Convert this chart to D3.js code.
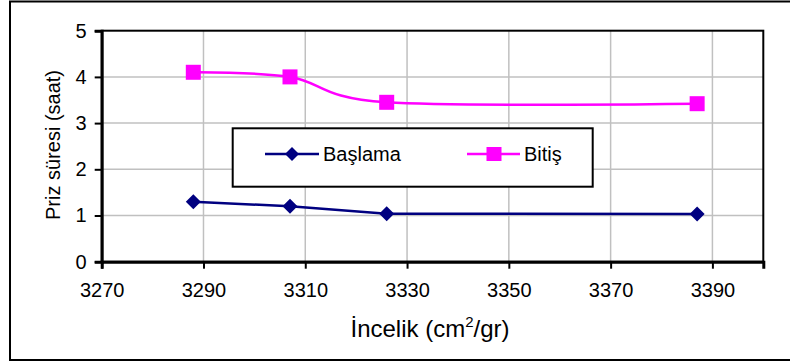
<!DOCTYPE html>
<html>
<head>
<meta charset="utf-8">
<script src="https://cdn.jsdelivr.net/npm/d3@7"></script>
<style>
  html, body { margin: 0; padding: 0; background: #fff; }
  svg { display: block; font-family: "Liberation Sans", Arial, sans-serif; }
</style>
</head>
<body>
<svg id="chart" width="790" height="362"></svg>
<script>
// ---- data ----
const fineness = [3288, 3307, 3326, 3387];
const baslama = [1.30, 1.20, 1.04, 1.03];
const bitis = [4.10, 4.00, 3.45, 3.42];
const xTicks = [3270, 3290, 3310, 3330, 3350, 3370, 3390];
const yTicks = [0, 1, 2, 3, 4, 5];
const seriesNames = ["Başlama", "Bitiş"];
const yTitle = "Priz süresi (saat)";

// ---- layout ----
const svg = d3.select("#chart");
const plot = { left: 101.7, top: 30.7, right: 763.3, bottom: 261.7 };
const x = d3.scaleLinear().domain([3270, 3400]).range([plot.left, plot.right]);
const y = d3.scaleLinear().domain([0, 5]).range([plot.bottom, plot.top]);

// outer frame
svg.append("rect").attr("x", 10).attr("y", 1.5).attr("width", 790).attr("height", 358.5)
  .attr("fill", "#fff").attr("stroke", "#000").attr("stroke-width", 2);

// gridlines
svg.append("g").selectAll("line.h").data(yTicks.filter(d => d > 0 && d < 5)).join("line")
  .attr("x1", plot.left).attr("x2", plot.right)
  .attr("y1", d => y(d)).attr("y2", d => y(d))
  .attr("stroke", "#c0c0c0").attr("stroke-width", 1.5);
svg.append("g").selectAll("line.v").data(xTicks.filter(d => d > 3270)).join("line")
  .attr("y1", plot.top).attr("y2", plot.bottom)
  .attr("x1", d => x(d)).attr("x2", d => x(d))
  .attr("stroke", "#c0c0c0").attr("stroke-width", 1.5);

// plot border
svg.append("rect").attr("x", plot.left).attr("y", plot.top)
  .attr("width", plot.right - plot.left).attr("height", plot.bottom - plot.top)
  .attr("fill", "none").attr("stroke", "#000").attr("stroke-width", 2);

// axes
const xAxis = d3.axisBottom(x).tickValues(xTicks).tickSize(7).tickPadding(14).tickFormat(d3.format("d"));
const gx = svg.append("g").attr("transform", `translate(0,${plot.bottom})`).call(xAxis);
gx.select(".domain").attr("stroke", "#000").attr("stroke-width", 3);
gx.selectAll(".tick line").attr("stroke", "#000").attr("stroke-width", 2);
gx.selectAll(".tick text").attr("font-size", 20).attr("fill", "#000")
  .attr("font-family", "'Liberation Sans', Arial, sans-serif");

const yAxis = d3.axisLeft(y).tickValues(yTicks).tickSize(7).tickPadding(8).tickFormat(d3.format("d"));
const gy = svg.append("g").attr("transform", `translate(${plot.left},0)`).call(yAxis);
gy.select(".domain").attr("stroke", "#000").attr("stroke-width", 3);
gy.selectAll(".tick line").attr("stroke", "#000").attr("stroke-width", 2);
gy.selectAll(".tick text").attr("font-size", 20).attr("fill", "#000")
  .attr("font-family", "'Liberation Sans', Arial, sans-serif");

// axis titles
svg.append("text").attr("transform", "translate(60,145) rotate(-90)")
  .attr("text-anchor", "middle").attr("font-size", 20).text(yTitle);
const xt = svg.append("text").attr("x", 430).attr("y", 337).attr("text-anchor", "middle").attr("font-size", 24);
xt.append("tspan").text("İncelik (cm");
xt.append("tspan").attr("font-size", 15).attr("dy", -10).text("2");
xt.append("tspan").attr("dy", 10).text("/gr)");

// series
const dataB = fineness.map((f, i) => [f, baslama[i]]);
const dataE = fineness.map((f, i) => [f, bitis[i]]);
const lineLin = d3.line().x(d => x(d[0])).y(d => y(d[1]));
const lineSmooth = d3.line().x(d => x(d[0])).y(d => y(d[1])).curve(d3.curveCardinal.tension(0));

svg.append("path").attr("d", lineLin(dataB)).attr("fill", "none")
  .attr("stroke", "#000080").attr("stroke-width", 2.5);
svg.append("path").attr("d", lineSmooth(dataE)).attr("fill", "none")
  .attr("stroke", "#ff00ff").attr("stroke-width", 2.5);

const diamond = s => `M0,${-s}L${s},0L0,${s}L${-s},0Z`;
svg.append("g").selectAll("path").data(dataB).join("path")
  .attr("transform", d => `translate(${x(d[0])},${y(d[1])})`)
  .attr("d", diamond(7.5)).attr("fill", "#000080");
svg.append("g").selectAll("rect").data(dataE).join("rect")
  .attr("x", d => x(d[0]) - 7.5).attr("y", d => y(d[1]) - 7.5)
  .attr("width", 15).attr("height", 15).attr("fill", "#ff00ff");

// legend
const lg = svg.append("g");
lg.append("rect").attr("x", 232.7).attr("y", 128.3).attr("width", 360).attr("height", 58.4)
  .attr("fill", "#fff").attr("stroke", "#000").attr("stroke-width", 2);
const ly = 154;
lg.append("line").attr("x1", 265).attr("x2", 319).attr("y1", ly).attr("y2", ly)
  .attr("stroke", "#000080").attr("stroke-width", 2.5);
lg.append("path").attr("transform", `translate(292,${ly})`).attr("d", diamond(7)).attr("fill", "#000080");
lg.append("text").attr("x", 323).attr("y", ly + 7).attr("font-size", 20).text(seriesNames[0]);
lg.append("line").attr("x1", 467).attr("x2", 520).attr("y1", ly).attr("y2", ly)
  .attr("stroke", "#ff00ff").attr("stroke-width", 2.5);
lg.append("rect").attr("x", 494 - 7.5).attr("y", ly - 7).attr("width", 15).attr("height", 14).attr("fill", "#ff00ff");
lg.append("text").attr("x", 524).attr("y", ly + 7).attr("font-size", 20).text(seriesNames[1]);
</script>
</body>
</html>
